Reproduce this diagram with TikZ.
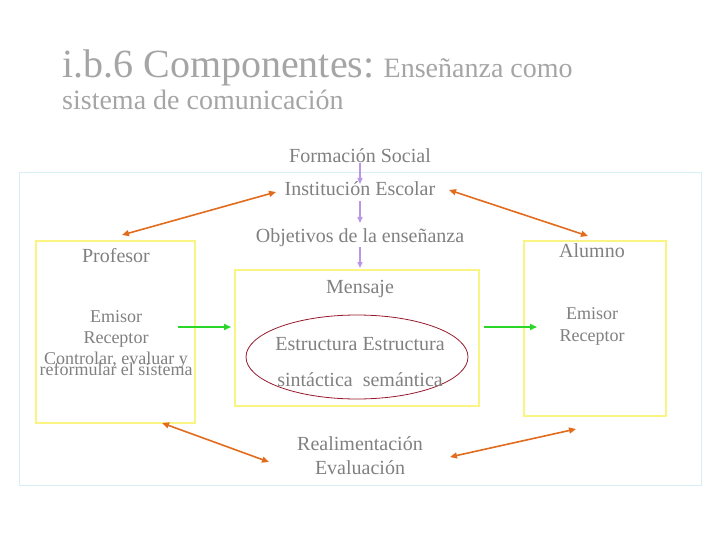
\documentclass[tikz,border=0pt]{standalone}
\usepackage{fontspec}
\setmainfont{Liberation Serif}
\usetikzlibrary{arrows.meta,shapes.geometric}
\definecolor{txtgray}{RGB}{128,128,128}
\definecolor{titlegray}{RGB}{165,165,165}
\definecolor{framecyan}{RGB}{214,238,244}
\definecolor{boxyellow}{RGB}{250,244,130}
\definecolor{arrorange}{RGB}{226,108,30}
\definecolor{arrpurple}{RGB}{186,150,228}
\definecolor{arrgreen}{RGB}{40,215,40}
\definecolor{ellred}{RGB}{150,25,45}
\tikzset{
  lbl/.style={text=txtgray, anchor=base, inner sep=0pt, font=\fontsize{20}{22}\selectfont},
  sml/.style={text=txtgray, anchor=base, inner sep=0pt, font=\fontsize{18}{20}\selectfont},
  ybox/.style={draw=boxyellow, line width=1.2pt},
  orangearr/.style={draw=arrorange, line width=1.6pt, {Triangle[length=7pt,width=6pt]}-{Triangle[length=7pt,width=6pt]}},
  purplearr/.style={draw=arrpurple, line width=1.4pt, -{Triangle[length=6pt,width=5pt]}},
  greenarr/.style={draw=arrgreen, line width=1.6pt, -{Triangle[length=7pt,width=6pt]}},
}
\begin{document}
\begin{tikzpicture}[x=1pt,y=-1pt]
\useasboundingbox (0,0) rectangle (720,540);
% title
\node[anchor=base west, inner sep=0pt, text=titlegray, font=\fontsize{40}{44}\selectfont] (t1) at (62,78) {i.b.6 Componentes:\fontsize{28}{30}\selectfont{} Enseñanza como};
\node[anchor=base west, inner sep=0pt, text=titlegray, font=\fontsize{28}{30}\selectfont] (t2) at (62,110) {sistema de comunicación};
% outer frame
\draw[draw=framecyan, line width=1pt] (19,173) rectangle (701,485);
% boxes
\draw[ybox] (36,241) rectangle (195,423);
\draw[ybox] (235,270) rectangle (479,406);
\draw[ybox] (524,241) rectangle (666,416);
\node[draw=ellred, line width=0.8pt, ellipse, minimum width=222pt, minimum height=84pt, inner sep=0pt] (ell) at (357,357) {};
% texts
\node[lbl] (fs) at (360,163) {Formación Social};
\node[lbl] (ie) at (360,196) {Institución Escolar};
\node[lbl] (obj) at (360,242) {Objetivos de la enseñanza};
\node[lbl] (prof) at (116,262) {Profesor};
\node[lbl] (alu) at (592,258) {Alumno};
\node[lbl] (men) at (360,293) {Mensaje};
\node[sml] (pe) at (116,322) {Emisor};
\node[sml] (pr) at (116,343) {Receptor};
\node[sml] (pc) at (116,364) {Controlar, evaluar y};
\node[sml] (pf) at (116,375) {reformular el sistema};
\node[sml] (ae) at (592,319) {Emisor};
\node[sml] (ar) at (592,341) {Receptor};
\node[lbl] (es1) at (360,350) {Estructura Estructura};
\node[lbl] (es2) at (360,386) {sintáctica\ \ semántica};
\node[lbl] (re) at (360,450) {Realimentación};
\node[lbl] (ev) at (360,474) {Evaluación};
% arrow end coordinates
\coordinate (p1) at (360,163);
\coordinate (p2) at (360,184);
\coordinate (p3) at (360,201);
\coordinate (p4) at (360,223);
\coordinate (p5) at (360,247);
\coordinate (p6) at (360,268);
\coordinate (o1a) at (122,235);
\coordinate (o1b) at (276,192);
\coordinate (o2a) at (449,190);
\coordinate (o2b) at (588,236);
\coordinate (o3a) at (162,423);
\coordinate (o3b) at (269,462);
\coordinate (o4a) at (450,457);
\coordinate (o4b) at (576,429);
\coordinate (g1a) at (178,327);
\coordinate (g1b) at (231,327);
\coordinate (g2a) at (484,327);
\coordinate (g2b) at (537,327);
% arrows
\draw[purplearr] (p1) -- (p2);
\draw[purplearr] (p3) -- (p4);
\draw[purplearr] (p5) -- (p6);
\draw[orangearr] (o1a) -- (o1b);
\draw[orangearr] (o2a) -- (o2b);
\draw[orangearr] (o3a) -- (o3b);
\draw[orangearr] (o4a) -- (o4b);
\draw[greenarr] (g1a) -- (g1b);
\draw[greenarr] (g2a) -- (g2b);
\end{tikzpicture}
\end{document}
